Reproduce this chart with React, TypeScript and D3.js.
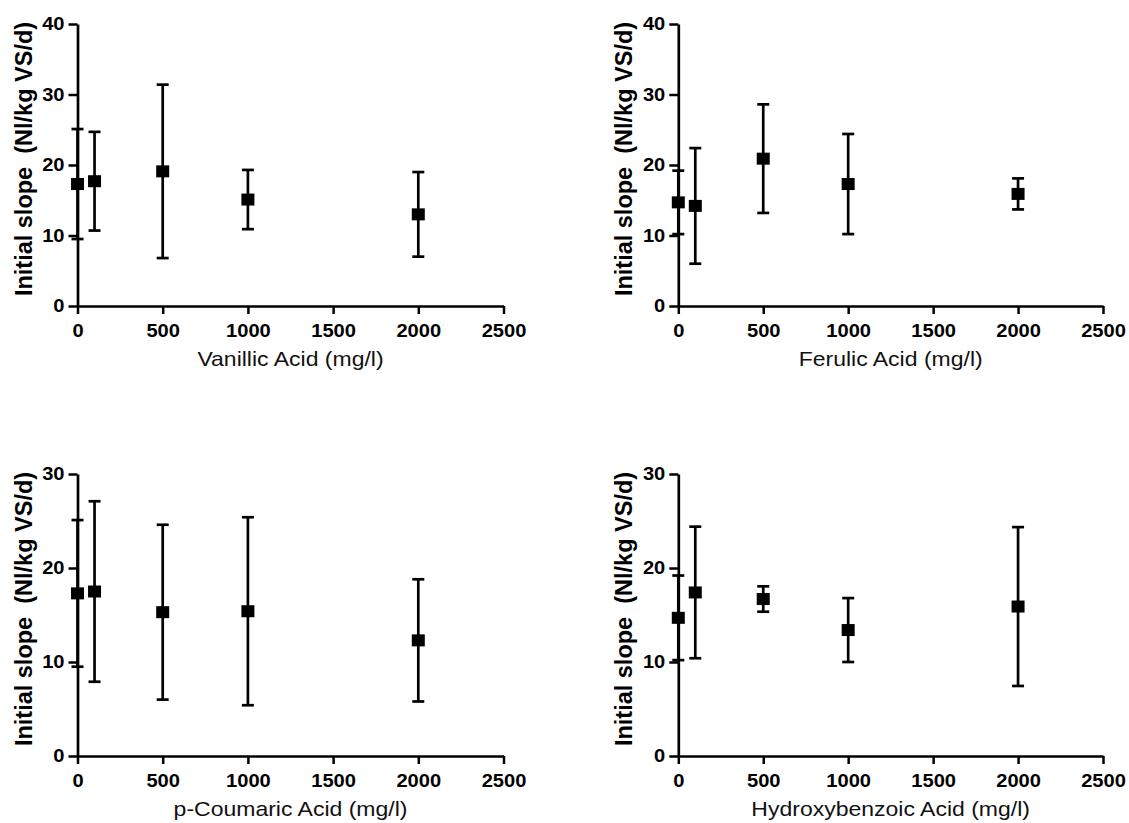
import React, { useRef, useEffect } from "react";
import * as d3 from "d3";

const WIDTH = 1129;
const HEIGHT = 823;

// concentrations (mg/l)
const concentrations = [0, 100, 500, 1000, 2000];
const xTicks = [0, 500, 1000, 1500, 2000, 2500];

// initial slope (Nl/kg VS/d), mean and error
const vanillicMean = [17.3, 17.7, 19.1, 15.1, 13.0];
const vanillicErr = [7.8, 7.0, 12.3, 4.2, 6.0];
const ferulicMean = [14.7, 14.2, 20.9, 17.3, 15.9];
const ferulicErr = [4.5, 8.2, 7.7, 7.1, 2.2];
const coumaricMean = [17.3, 17.5, 15.3, 15.4, 12.3];
const coumaricErr = [7.8, 9.6, 9.3, 10.0, 6.5];
const hydroxyMean = [14.7, 17.4, 16.7, 13.4, 15.9];
const hydroxyErr = [4.5, 7.0, 1.35, 3.4, 8.45];

const yLabel = "Initial slope  (Nl/kg VS/d)";
const FONT = "'Liberation Sans', Arial, Helvetica, sans-serif";
const STRETCH = 1.15; // the figure text is a bit wide

const panels = [
  { id: "van", title: "Vanillic Acid (mg/l)", mean: vanillicMean, err: vanillicErr, yMax: 40, yTicks: [0, 10, 20, 30, 40], left: 77.5, right: 503.5, top: 24, bottom: 306 },
  { id: "fer", title: "Ferulic Acid (mg/l)", mean: ferulicMean, err: ferulicErr, yMax: 40, yTicks: [0, 10, 20, 30, 40], left: 678.3, right: 1103, top: 24, bottom: 306 },
  { id: "cou", title: "p-Coumaric Acid (mg/l)", mean: coumaricMean, err: coumaricErr, yMax: 30, yTicks: [0, 10, 20, 30], left: 77.5, right: 503.5, top: 474, bottom: 756 },
  { id: "hyd", title: "Hydroxybenzoic Acid (mg/l)", mean: hydroxyMean, err: hydroxyErr, yMax: 30, yTicks: [0, 10, 20, 30], left: 678.3, right: 1103, top: 474, bottom: 756 },
];

function Panel({ p }) {
  const gRef = useRef(null);

  useEffect(() => {
    const g = d3.select(gRef.current);
    g.selectAll("*").remove();

    const x = d3.scaleLinear().domain([0, 2500]).range([p.left, p.right]);
    const y = d3.scaleLinear().domain([0, p.yMax]).range([p.bottom, p.top]);

    // axes
    const xAxis = d3
      .axisBottom(x)
      .tickValues(xTicks)
      .tickFormat(d3.format("d"))
      .tickSize(8)
      .tickSizeOuter(0)
      .tickPadding(11);
    const yAxis = d3
      .axisLeft(y)
      .tickValues(p.yTicks)
      .tickFormat(d3.format("d"))
      .tickSize(9)
      .tickSizeOuter(0)
      .tickPadding(4);

    const styleAxis = (sel) => {
      sel.select(".domain").attr("stroke", "#000").attr("stroke-width", 2.7);
      sel.selectAll(".tick line").attr("stroke", "#000").attr("stroke-width", 2.5);
      sel
        .selectAll(".tick text")
        .attr("fill", "#000")
        .style("font-family", FONT)
        .style("font-size", "17.5px")
        .style("font-weight", "bold");
    };

    const gx = g.append("g").attr("transform", `translate(0,${p.bottom})`).call(xAxis).call(styleAxis);
    gx.selectAll(".tick text").attr("transform", `scale(${STRETCH},1)`);
    const gy = g.append("g").attr("transform", `translate(${p.left},0)`).call(yAxis).call(styleAxis);
    gy.selectAll(".tick text").attr("transform", `scale(${STRETCH},1)`).attr("x", -13 / STRETCH);

    const pts = concentrations.map((c, i) => ({ c, m: p.mean[i], e: p.err[i] }));
    const capW = 6;

    // error bars
    const bars = g.append("g").attr("stroke", "#000").attr("stroke-width", 2.7).attr("fill", "none");
    pts.forEach((d) => {
      const cx = x(d.c);
      const y1 = y(d.m + d.e);
      const y2 = y(d.m - d.e);
      bars.append("line").attr("x1", cx).attr("x2", cx).attr("y1", y1).attr("y2", y2);
      bars.append("line").attr("x1", cx - capW).attr("x2", cx + capW).attr("y1", y1).attr("y2", y1);
      bars.append("line").attr("x1", cx - capW).attr("x2", cx + capW).attr("y1", y2).attr("y2", y2);
    });

    // square markers
    const sqW = 13;
    const sqH = 12;
    g.append("g")
      .selectAll("rect")
      .data(pts)
      .join("rect")
      .attr("x", (d) => x(d.c) - sqW / 2)
      .attr("y", (d) => y(d.m) - sqH / 2)
      .attr("width", sqW)
      .attr("height", sqH)
      .attr("fill", "#000");

    // axis titles
    const midX = (p.left + p.right) / 2;
    g.append("text")
      .attr("transform", `translate(${midX},${p.bottom + 60}) scale(${STRETCH},1)`)
      .attr("text-anchor", "middle")
      .style("font-family", FONT)
      .style("font-size", "20px")
      .attr("fill", "#111")
      .text(p.title);

    const cy = (p.top + p.bottom) / 2 - 6;
    g.append("text")
      .attr("transform", `translate(${p.left - 46},${cy}) rotate(-90)`)
      .attr("text-anchor", "middle")
      .style("font-family", FONT)
      .style("font-size", "23.5px")
      .style("font-weight", "bold")
      .style("white-space", "pre")
      .attr("fill", "#000")
      .text(yLabel);
  }, [p]);

  return <g ref={gRef} />;
}

export default function App() {
  return (
    <svg
      width={WIDTH}
      height={HEIGHT}
      style={{ position: "absolute", left: 0, top: 0, background: "#fff" }}
    >
      <rect width={WIDTH} height={HEIGHT} fill="#fff" />
      {panels.map((p) => (
        <Panel key={p.id} p={p} />
      ))}
    </svg>
  );
}
